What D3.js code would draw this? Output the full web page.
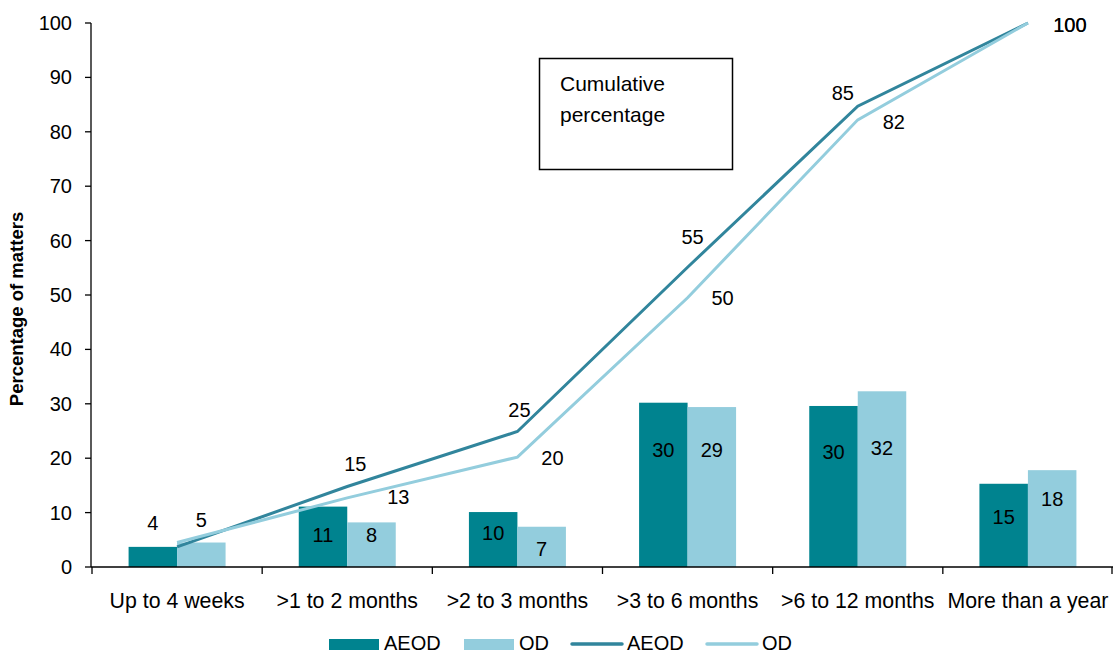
<!DOCTYPE html>
<html>
<head>
<meta charset="utf-8">
<script src="https://cdn.jsdelivr.net/npm/d3@7"></script>
<style>
  body { margin: 0; background: #fff; }
  svg { display: block; font-family: "Liberation Sans", Arial, sans-serif; }
</style>
</head>
<body>
<svg width="1113" height="653"></svg>
<script>
const categories = ["Up to 4 weeks", ">1 to 2 months", ">2 to 3 months", ">3 to 6 months", ">6 to 12 months", "More than a year"];
const aeodShare = [3.7, 11.1, 10.1, 30.2, 29.6, 15.3];
const odShare = [4.5, 8.2, 7.4, 29.4, 32.3, 17.8];
const aeodCumulative = [3.7, 14.8, 24.9, 55.1, 84.7, 100];
const odCumulative = [4.5, 12.7, 20.2, 49.5, 82.2, 100];
const yTicks = [0, 10, 20, 30, 40, 50, 60, 70, 80, 90, 100];

// label nudges (px), placed by hand in the original
const aeodBarLabelDy = [-24, 28, 21, 47, 46, 33];
const odBarLabelDy = [-23, 13, 22, 43, 57, 29];
const aeodLineLabelOff = [null, [8, -22], [2, -22], [5, -30], [-15, -13], [42, 2]];
const odLineLabelOff = [null, [51, -1], [35, 1], [35, 0], [36, 2], [42, 2]];

const COL = {
  aeodBar: "#00838f",
  odBar: "#93cddd",
  aeodLine: "#31859c",
  odLine: "#93cddd"
};

const svg = d3.select("svg");
const FS = 20;

const x = d3.scaleBand().domain(categories).range([92, 1113]).padding(0);
const y = d3.scaleLinear().domain([0, 100]).range([567, 23]);
const barW = x.bandwidth() * 0.285;
const cx = (c) => x(c) + x.bandwidth() / 2;

// y axis
const yAxis = svg.append("g").attr("transform", "translate(91,0)");
yAxis.append("line").attr("x1", 0).attr("x2", 0).attr("y1", y(100)).attr("y2", y(0))
  .attr("stroke", "#000").attr("stroke-width", 1.3);
yTicks.forEach((t) => {
  yAxis.append("line").attr("x1", -6).attr("x2", 0).attr("y1", y(t)).attr("y2", y(t))
    .attr("stroke", "#000").attr("stroke-width", 1.3);
  yAxis.append("text").attr("x", -19).attr("y", y(t)).attr("dy", "0.35em")
    .attr("text-anchor", "end").attr("font-size", FS).text(t);
});

svg.append("text")
  .attr("transform", "translate(23,309) rotate(-90)")
  .attr("text-anchor", "middle").attr("font-weight", "bold").attr("font-size", 18.5)
  .text("Percentage of matters");

// bars
const barsG = svg.append("g");
barsG.selectAll(".aeod").data(categories).join("rect")
  .attr("x", (c) => cx(c) - barW)
  .attr("y", (c, i) => y(aeodShare[i]))
  .attr("width", barW)
  .attr("height", (c, i) => y(0) - y(aeodShare[i]))
  .attr("fill", COL.aeodBar);
barsG.selectAll(".od").data(categories).join("rect")
  .attr("class", "od")
  .attr("x", (c) => cx(c))
  .attr("y", (c, i) => y(odShare[i]))
  .attr("width", barW)
  .attr("height", (c, i) => y(0) - y(odShare[i]))
  .attr("fill", COL.odBar);

// x axis
const xAxis = svg.append("g");
xAxis.append("line").attr("x1", 91).attr("x2", 1113).attr("y1", y(0)).attr("y2", y(0))
  .attr("stroke", "#000").attr("stroke-width", 1.3);
categories.concat([null]).forEach((c) => {
  const xx = c === null ? 1112 : x(c);
  xAxis.append("line").attr("x1", xx).attr("x2", xx).attr("y1", y(0)).attr("y2", y(0) + 7)
    .attr("stroke", "#000").attr("stroke-width", 1.3);
});
xAxis.selectAll(".lab").data(categories).join("text")
  .attr("x", (c) => cx(c)).attr("y", 601).attr("dy", "0.35em")
  .attr("text-anchor", "middle").attr("font-size", 21.3).text((c) => c);

// cumulative lines
const line = d3.line().x((d, i) => cx(categories[i])).y((d) => y(d));
svg.append("path").datum(aeodCumulative).attr("d", line)
  .attr("fill", "none").attr("stroke", COL.aeodLine).attr("stroke-width", 3);
svg.append("path").datum(odCumulative).attr("d", line)
  .attr("fill", "none").attr("stroke", COL.odLine).attr("stroke-width", 3);

// bar labels
const labG = svg.append("g").attr("font-size", FS).attr("text-anchor", "middle");
aeodShare.forEach((v, i) => {
  labG.append("text").attr("x", cx(categories[i]) - barW / 2)
    .attr("y", y(v) + aeodBarLabelDy[i]).attr("dy", "0.35em").text(Math.round(v));
});
odShare.forEach((v, i) => {
  labG.append("text").attr("x", cx(categories[i]) + barW / 2)
    .attr("y", y(v) + odBarLabelDy[i]).attr("dy", "0.35em").text(Math.round(v));
});

// line labels
[[aeodCumulative, aeodLineLabelOff], [odCumulative, odLineLabelOff]].forEach(([vals, offs]) => {
  vals.forEach((v, i) => {
    if (!offs[i]) return;
    labG.append("text").attr("x", cx(categories[i]) + offs[i][0])
      .attr("y", y(v) + offs[i][1]).attr("dy", "0.35em").text(Math.round(v));
  });
});

// annotation box
svg.append("rect").attr("x", 539.5).attr("y", 58.5).attr("width", 193).attr("height", 111)
  .attr("fill", "#fff").attr("stroke", "#000").attr("stroke-width", 1.5);
svg.append("text").attr("x", 560).attr("y", 84).attr("dy", "0.35em").attr("font-size", 21).text("Cumulative");
svg.append("text").attr("x", 560).attr("y", 115).attr("dy", "0.35em").attr("font-size", 21).text("percentage");

// legend
const legend = [
  { label: "AEOD", type: "rect", color: COL.aeodBar, x: 329 },
  { label: "OD", type: "rect", color: COL.odBar, x: 464 },
  { label: "AEOD", type: "line", color: COL.aeodLine, x: 572 },
  { label: "OD", type: "line", color: COL.odLine, x: 707 }
];
const legG = svg.append("g");
legend.forEach((d) => {
  if (d.type === "rect") {
    legG.append("rect").attr("x", d.x).attr("y", 639).attr("width", 50).attr("height", 11).attr("fill", d.color);
  } else {
    legG.append("line").attr("x1", d.x).attr("x2", d.x + 50).attr("y1", 644).attr("y2", 644)
      .attr("stroke", d.color).attr("stroke-width", 3.5).attr("stroke-linecap", "round");
  }
  legG.append("text").attr("x", d.x + 55).attr("y", 643).attr("dy", "0.35em")
    .attr("font-size", FS).text(d.label);
});
</script>
</body>
</html>
